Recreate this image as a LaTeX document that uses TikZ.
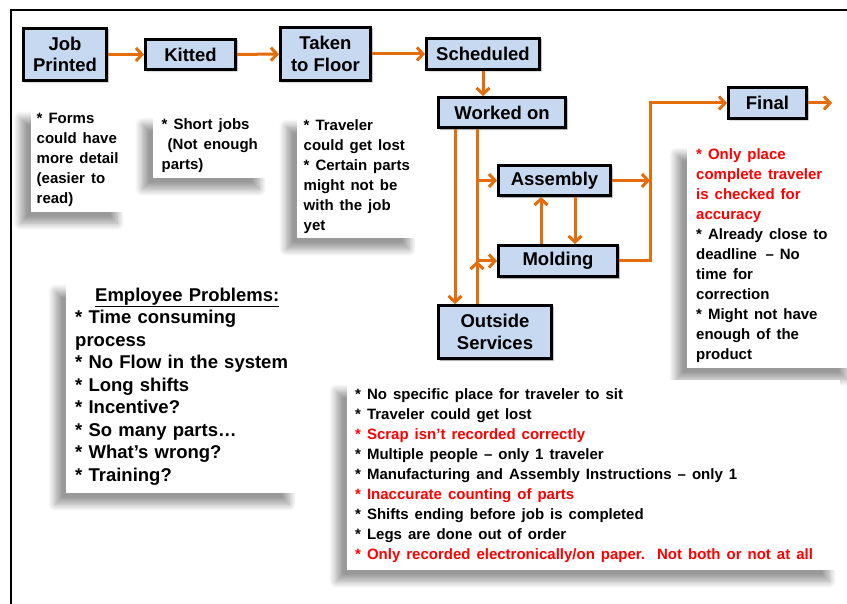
\documentclass[tikz,border=0pt]{standalone}
\usepackage{fontspec}
\setmainfont{Liberation Sans}
\usetikzlibrary{arrows.meta, positioning, shadows.blur}
\definecolor{flowblue}{HTML}{C6D9F1}
\definecolor{floworange}{HTML}{E46C0A}
\definecolor{notered}{HTML}{FF0000}
\newcommand{\stagefont}{\fontsize{18.5}{21.5}\selectfont\bfseries}
\newcommand{\notefont}{\fontsize{15}{20}\selectfont\bfseries}
\newcommand{\listfont}{\fontsize{18.5}{22.5}\selectfont\bfseries}

\begin{document}
\begin{tikzpicture}[
    x=1pt, y=-1pt,
    >={Straight Barb[length=6pt, width=13pt]},
    stage/.style={draw=black, line width=3pt, fill=flowblue, font=\stagefont, align=center, inner sep=0pt,
      blur shadow={shadow xshift=1.5pt, shadow yshift=-1.5pt, shadow blur radius=1.5pt, shadow opacity=45}},
    arrow/.style={->, line width=3pt, color=floworange},
    note/.style={fill=white, anchor=north west, align=left, font=\notefont, inner ysep=0pt,
      blur shadow={shadow xshift=-11pt, shadow yshift=-11pt, shadow blur radius=7pt, shadow blur steps=10, shadow opacity=40}},
    widenote/.style={note, execute at begin node={\spaceskip=0.4em plus 0.1em\relax}},
]
\useasboundingbox (0,0) rectangle (847,604);

% Frame
\draw[line width=2pt] (11,604) -- (11,10) -- (847,10);

% Flow stages
\node[stage, minimum width=83pt, minimum height=52pt] (job) at (65,54.5) {Job\\Printed};
\node[stage, minimum width=90pt, minimum height=30pt] (kitted) at (190.5,54.5) {Kitted};
\node[stage, minimum width=90pt, minimum height=53pt] (taken) at (325.5,54) {Taken\\to Floor};
\node[stage, minimum width=113pt, minimum height=31pt] (sched) at (483,54) {Scheduled};
\node[stage, minimum width=127pt, minimum height=30pt] (worked) at (502,112.5) {Worked on};
\node[stage, minimum width=112pt, minimum height=30pt] (assembly) at (554.5,180.5) {Assembly};
\node[stage, minimum width=119pt, minimum height=31pt] (molding) at (558,261) {Molding};
\node[stage, minimum width=113pt, minimum height=53pt] (outside) at (495,332) {Outside\\Services};
\node[stage, minimum width=78pt, minimum height=31pt] (final) at (767.5,103) {Final};

% Arrows
\draw[arrow] (job) -- (kitted);
\draw[arrow] (kitted) -- (taken);
\draw[arrow] (taken) -- (sched);
\draw[arrow] (sched.south) -- (sched.south |- worked.north);
\draw[arrow] ([xshift=18pt]worked.south west) -- ([xshift=18pt]outside.north west);
\coordinate (bus) at ([xshift=40pt]worked.south west);
\draw[arrow] (bus) |- (molding.west);
\draw[arrow] (bus |- assembly.west) -- (assembly.west);
\draw[arrow] (bus |- outside.north) -- (bus |- molding.west);
\draw[arrow] ([xshift=-17pt]molding.north) -- ([xshift=-17pt]molding.north |- assembly.south);
\draw[arrow] ([xshift=20.5pt]assembly.south) -- ([xshift=20.5pt]assembly.south |- molding.north);
\coordinate (join) at (650,180.5);
\draw[arrow] (assembly.east) -- (join);
\draw[arrow] (molding.east) -| (join) |- (final.west);
\coordinate (exit) at (832,103);
\draw[arrow] (final.east) -- (exit);

% Notes
\node[widenote, text width=86pt, minimum height=105pt, inner xsep=5.5pt] (formsnote) at (31,107)
  {{*} Forms\\could have\\more detail\\(easier to\\read)};
\node[widenote, text width=100pt, minimum height=65pt, inner xsep=8.5pt] (kitnote) at (153,113)
  {{*} Short jobs\\\ (Not enough\\parts)};
\node[widenote, text width=110pt, minimum height=123pt, inner xsep=6.5pt] (floornote) at (297,115)
  {{*} Traveler\\could get lost\\{*} Certain parts\\might not be\\with the job\\yet};
\node[widenote, text width=152pt, minimum height=225pt, inner xsep=9pt] (finalnote) at (687,143)
  {\textcolor{notered}{* Only place}\\\textcolor{notered}{complete traveler}\\\textcolor{notered}{is checked for}\\\textcolor{notered}{accuracy}\\{*} Already close to\\deadline \,– No\\time for\\correction\\{*} Might not have\\enough of the\\product};
\node[note, font=\listfont, text width=216pt, minimum height=213pt, inner xsep=9pt] (employee) at (66,280)
  {\hspace*{20pt}\underline{Employee Problems:}\\{*} Time consuming\\process\\{*} No Flow in the system\\{*} Long shifts\\{*} Incentive?\\{*} So many parts…\\{*} What’s wrong?\\{*} Training?};
\node[widenote, text width=477pt, minimum height=190pt, inner xsep=8pt] (worknote) at (347,380)
  {{*} No specific place for traveler to sit\\
   {*} Traveler could get lost\\
   \textcolor{notered}{* Scrap isn’t recorded correctly}\\
   {*} Multiple people – only 1 traveler\\
   {*} Manufacturing and Assembly Instructions – only 1\\
   \textcolor{notered}{* Inaccurate counting of parts}\\
   {*} Shifts ending before job is completed\\
   {*} Legs are done out of order\\
   \textcolor{notered}{* Only recorded electronically/on paper.\ \ Not both or not at all}};

\end{tikzpicture}
\end{document}
